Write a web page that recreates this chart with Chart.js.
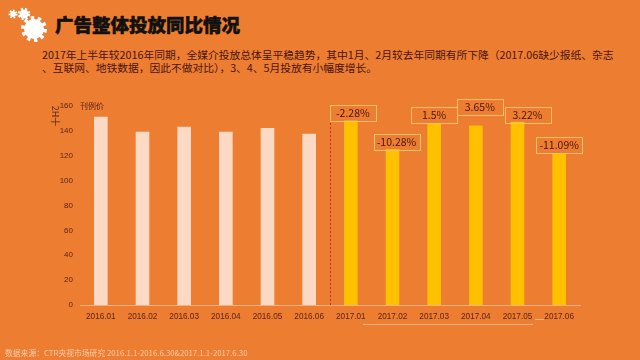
<!DOCTYPE html>
<html>
<head>
<meta charset="utf-8">
<script src="https://cdn.jsdelivr.net/npm/chart.js@4"></script>
<style>
  html, body { margin: 0; padding: 0; }
  body { width: 640px; height: 360px; background: #ed7d31; overflow: hidden; position: relative;
         font-family: "Noto Sans CJK SC", sans-serif; }
  #wrap { position: absolute; left: 0; top: 0; width: 640px; height: 360px; }
  .abs { position: absolute; white-space: nowrap; }
  #title { left: 55px; top: 10px; font-size: 18.5px; line-height: 28px; font-weight: 900; color: #111; -webkit-text-stroke: 0.5px #111; }
  .para { left: 42px; font-size: 10.75px; line-height: 14px; color: #4a1410; }
  #unit { left: 80px; top: 100px; font-size: 8px; line-height: 11px; color: #5a2418; }
  #yname { left: 45px; top: 110px; font-size: 9px; line-height: 12px; color: #5a2418; transform: rotate(90deg); }
  #source { left: 5px; top: 347px; font-size: 7.8px; line-height: 12px; color: #f8cbad; }
  #rule { left: 363px; top: 324px; width: 170px; height: 1px; background: #f4b183; }
  #rule2 { left: 535px; top: 319px; width: 9px; height: 1px; background: #f4b183; }
</style>
</head>
<body>
<svg class="abs" style="left:0;top:0" width="50" height="50">
  <g fill="#fff" stroke="#fff">
    <circle cx="34" cy="29" r="10" stroke="none"/>
    <circle cx="34" cy="29" r="11" fill="none" stroke-width="4" stroke-dasharray="3.4 3.5"/>
    <circle cx="24" cy="14" r="4.5" stroke="none"/>
    <circle cx="24" cy="14" r="5" fill="none" stroke-width="2.5" stroke-dasharray="2 2"/>
    <circle cx="13" cy="14" r="3" stroke="none"/>
    <circle cx="13" cy="14" r="3.5" fill="none" stroke-width="2" stroke-dasharray="1.6 1.6"/>
  </g>
</svg>
<div class="abs" id="title">广告整体投放同比情况</div>
<div class="abs para" style="top:48px">2017年上半年较2016年同期&#xFF0C;全媒介投放总体呈平稳趋势&#xFF0C;其中1月、2月较去年同期有所下降&#xFF08;2017.06缺少报纸、杂志</div>
<div class="abs para" style="top:61px">、互联网、地铁数据&#xFF0C;因此不做对比&#xFF09;&#xFF0C;3、4、5月投放有小幅度增长。</div>
<div id="wrap"><canvas id="chart" width="640" height="360"></canvas></div>
<div class="abs" id="unit">刊例价</div>
<div class="abs" id="yname">2H十</div>
<div class="abs" id="rule"></div>
<div class="abs" id="rule2"></div>
<div class="abs" id="source">数据来源&#xFF1A;CTR央视市场研究 2016.1.1-2016.6.30&amp;2017.1.1-2017.6.30</div>
<script>
const months = ['2016.01', '2016.02', '2016.03', '2016.04', '2016.05', '2016.06',
                '2017.01', '2017.02', '2017.03', '2017.04', '2017.05', '2017.06'];
const spend2016 = [151, 139, 143, 139, 142, 137.5];
const spend2017 = [148, 125, 146, 144, 147, 122];
const yoyLabels = ['-2.28%', '-10.28%', '1.5%', '3.65%', '3.22%', '-11.09%'];

// callout boxes sit off the bar in the original, [dx, box top]
const boxLayout = [[2, 105], [4, 134], [0, 107], [4, 99], [10, 107], [0, 137]];

const yoyBoxes = {
  id: 'yoyBoxes',
  afterDatasetsDraw(chart) {
    const { ctx, scales: { x, y } } = chart;
    // dashed divider between the two years
    const divX = (x.getPixelForValue(5) + x.getPixelForValue(6)) / 2;
    ctx.save();
    ctx.strokeStyle = '#c8281e';
    ctx.lineWidth = 1;
    ctx.setLineDash([2, 2]);
    ctx.beginPath();
    ctx.moveTo(divX + 0.5, y.getPixelForValue(0));
    ctx.lineTo(divX + 0.5, y.getPixelForValue(160));
    ctx.stroke();
    ctx.setLineDash([]);

    ctx.font = '10.5px "Noto Sans CJK SC", sans-serif';
    ctx.textAlign = 'center';
    ctx.textBaseline = 'middle';
    yoyLabels.forEach((t, i) => {
      const [dx, top] = boxLayout[i];
      const cx = x.getPixelForValue(i + 6) + dx;
      ctx.strokeStyle = '#f6c26b';
      ctx.strokeRect(Math.round(cx - 23) + 0.5, top + 0.5, 46, 16);
      ctx.fillStyle = '#4a1410';
      ctx.fillText(t, cx, top + 8);
    });
    ctx.restore();
  }
};

new Chart(document.getElementById('chart').getContext('2d'), {
  type: 'bar',
  data: {
    labels: months,
    datasets: [{
      data: spend2016.concat(spend2017),
      backgroundColor: months.map((m, i) => i < spend2016.length ? '#fcd9c4' : '#ffc000'),
      barThickness: 13
    }]
  },
  options: {
    responsive: false,
    animation: false,
    layout: { padding: { top: 106, right: 60, left: 0, bottom: 0 } },
    plugins: { legend: { display: false }, tooltip: { enabled: false } },
    scales: {
      x: {
        afterFit(s) { s.height = 55; },
        grid: { display: false, drawTicks: false },
        border: { color: '#f4b183', width: 1 },
        ticks: { color: '#5a2418', font: { size: 8.2, family: '"Liberation Sans", sans-serif' }, padding: 7, maxRotation: 0, autoSkip: false }
      },
      y: {
        min: 0,
        max: 160,
        afterFit(s) { s.width = 80; },
        grid: { display: false, drawTicks: false },
        border: { display: false },
        ticks: { stepSize: 20, color: '#5a2418', font: { size: 8, family: '"Liberation Sans", sans-serif' }, padding: 7 }
      }
    }
  },
  plugins: [yoyBoxes]
});
</script>
</body>
</html>
